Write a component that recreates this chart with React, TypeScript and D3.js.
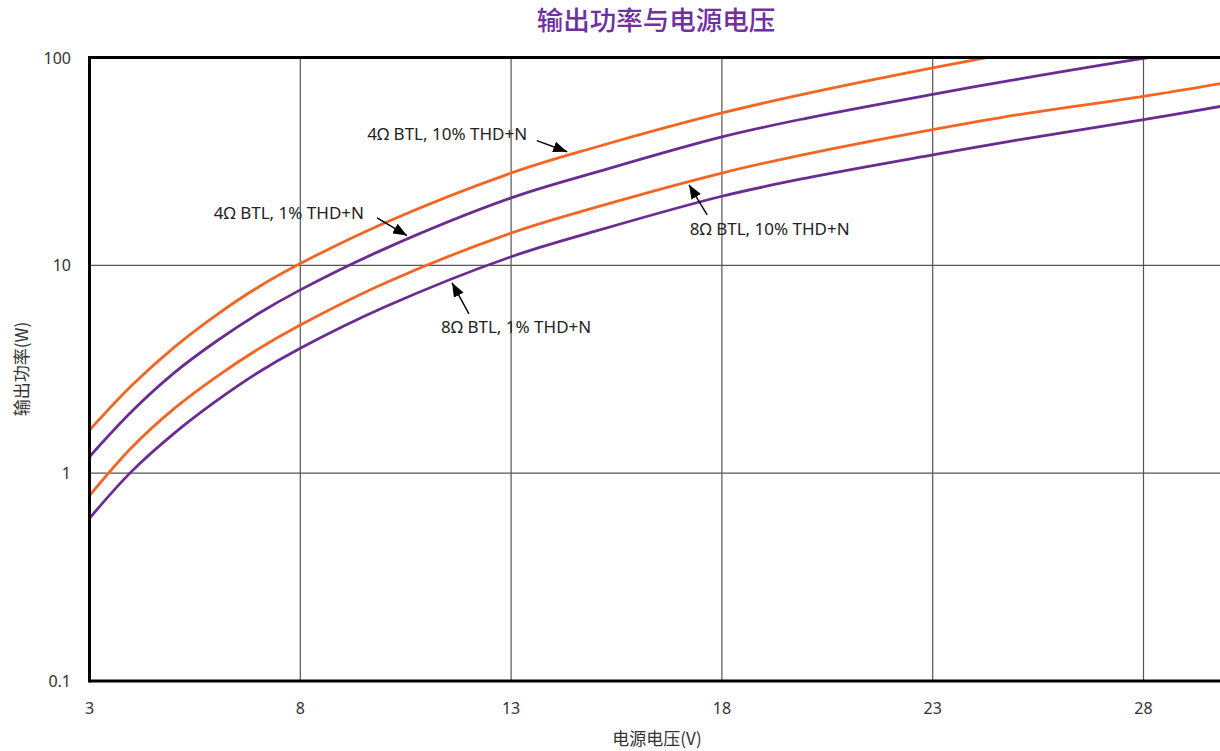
import React from "react";
import * as d3 from "d3";

const voltages = [3, 4, 5, 6, 7, 8, 10, 13, 15, 18, 20, 23, 25, 28, 30];
const p4ohm10 = [1.61, 2.64, 4.02, 5.75, 7.85, 10.2, 16.0, 27.8, 37.0, 54.1, 67.0, 89.1, 106, 132, 151];
const p4ohm1 = [1.2, 1.98, 3.03, 4.3, 5.85, 7.62, 12.0, 21.1, 28.0, 41.5, 51.0, 66.5, 78.5, 99, 113];
const p8ohm10 = [0.78, 1.33, 2.04, 2.9, 3.95, 5.16, 8.2, 14.3, 19.0, 27.8, 34.3, 45.0, 53.0, 65.0, 76.0];
const p8ohm1 = [0.607, 1.02, 1.55, 2.22, 3.05, 3.99, 6.3, 11.0, 14.6, 21.5, 26.3, 34.0, 40.0, 50.2, 59.0];

const seriesNames = ["4Ω BTL, 10% THD+N", "4Ω BTL, 1% THD+N", "8Ω BTL, 10% THD+N", "8Ω BTL, 1% THD+N"];
const seriesValues = [p4ohm10, p4ohm1, p8ohm10, p8ohm1];
const seriesColors = ["#F26522", "#6A2C91", "#F26522", "#6A2C91"];

const xTicks = [3, 8, 13, 18, 23, 28];
const xGrid = [8, 13, 18, 23, 28];
const yTicks = [0.1, 1, 10, 100];
const yTickLabels = ["0.1", "1", "10", "100"];
const yGrid = [1, 10];

// annotations in data units: text anchor, arrow tail, arrow tip
const annText = seriesNames;
const annTextV = [13.38, 9.51, 17.24, 11.34];
const annTextP = [40.3, 16.8, 14.0, 4.73];
const annAnchor = ["end", "end", "start", "start"];
const annTailV = [13.61, 9.82, 17.65, 12.0];
const annTailP = [39.8, 16.9, 17.5, 5.84];
const annTipV = [14.33, 10.53, 17.22, 11.6];
const annTipP = [35.2, 13.9, 24.4, 8.24];

const title = "输出功率与电源电压";
const xTitle = "电源电压(V)";
const yTitle = "输出功率(W)";

export default function App() {
  const W = 1220;
  const H = 751;
  const left = 89.5;
  const top = 57.5;
  const bottom = 681;
  const x = d3.scaleLinear().domain([3, 30]).range([left, left + 27 * 42.16]);
  const y = d3.scaleLog().domain([0.1, 100]).range([bottom, top]);
  const right = x(30);

  const line = d3
    .line<number>()
    .x((_, i) => x(voltages[i]))
    .y((d) => y(d))
    .curve(d3.curveCatmullRom.alpha(0.5));

  const font = "'Noto Sans', 'DejaVu Sans', sans-serif";
  const cjk = "'Noto Sans CJK SC', 'Noto Sans', sans-serif";

  return (
    <svg
      width={W}
      height={H}
      style={{ position: "absolute", left: 0, top: 0, background: "#fff" }}
    >
      <defs>
        <clipPath id="plot">
          <rect x={left} y={top} width={right - left} height={bottom - top} />
        </clipPath>
        <marker
          id="arrow"
          markerUnits="userSpaceOnUse"
          markerWidth={15}
          markerHeight={11}
          refX={14}
          refY={5.5}
          orient="auto"
        >
          <path d="M0,0 L14,5.5 L0,11 Z" fill="#000" />
        </marker>
      </defs>
      <rect x={0} y={0} width={W} height={H} fill="#fff" />
      <text
        x={656}
        y={18}
        textAnchor="middle"
        dominantBaseline="central"
        fill="#7030A0"
        fontFamily={cjk}
        fontSize={26.5}
        fontWeight={500}
      >
        {title}
      </text>

      {xGrid.map((v) => (
        <line key={"xg" + v} x1={x(v)} x2={x(v)} y1={top} y2={bottom} stroke="#555" strokeWidth={1.2} />
      ))}
      {yGrid.map((v) => (
        <line key={"yg" + v} x1={left} x2={right} y1={y(v)} y2={y(v)} stroke="#555" strokeWidth={1.2} />
      ))}

      <g clipPath="url(#plot)">
        {seriesValues.map((vals, i) => (
          <path
            key={seriesNames[i]}
            d={line(vals) || ""}
            fill="none"
            stroke={seriesColors[i]}
            strokeWidth={2.8}
          />
        ))}
      </g>

      {/* frame */}
      <line x1={left} x2={right} y1={top} y2={top} stroke="#000" strokeWidth={3} />
      <line x1={left} x2={right} y1={bottom} y2={bottom} stroke="#000" strokeWidth={3} />
      <line x1={left} x2={left} y1={top - 1.5} y2={bottom + 1.5} stroke="#000" strokeWidth={3} />

      {yTicks.map((v, i) => (
        <text
          key={"yt" + v}
          x={71}
          y={y(v)}
          textAnchor="end"
          dominantBaseline="central"
          fontFamily={font}
          fontSize={16}
          fill="#333"
        >
          {yTickLabels[i]}
        </text>
      ))}
      {xTicks.map((v) => (
        <text
          key={"xt" + v}
          x={x(v)}
          y={708}
          textAnchor="middle"
          dominantBaseline="central"
          fontFamily={font}
          fontSize={16}
          fill="#333"
        >
          {v}
        </text>
      ))}

      <text
        x={657}
        y={737}
        textAnchor="middle"
        dominantBaseline="central"
        fontFamily={cjk}
        fontSize={17}
        fill="#333"
      >
        {xTitle}
      </text>
      <text
        transform={`translate(20,${369}) rotate(-90)`}
        textAnchor="middle"
        dominantBaseline="central"
        fontFamily={cjk}
        fontSize={17}
        fill="#333"
      >
        {yTitle}
      </text>

      {annText.map((t, i) => (
        <g key={"ann" + i}>
          <text
            x={x(annTextV[i])}
            y={y(annTextP[i])}
            textAnchor={annAnchor[i] as any}
            fontFamily={font}
            fontSize={17}
            fill="#222"
          >
            {t}
          </text>
          <line
            x1={x(annTailV[i])}
            y1={y(annTailP[i])}
            x2={x(annTipV[i])}
            y2={y(annTipP[i])}
            stroke="#000"
            strokeWidth={1.4}
            markerEnd="url(#arrow)"
          />
        </g>
      ))}
    </svg>
  );
}
